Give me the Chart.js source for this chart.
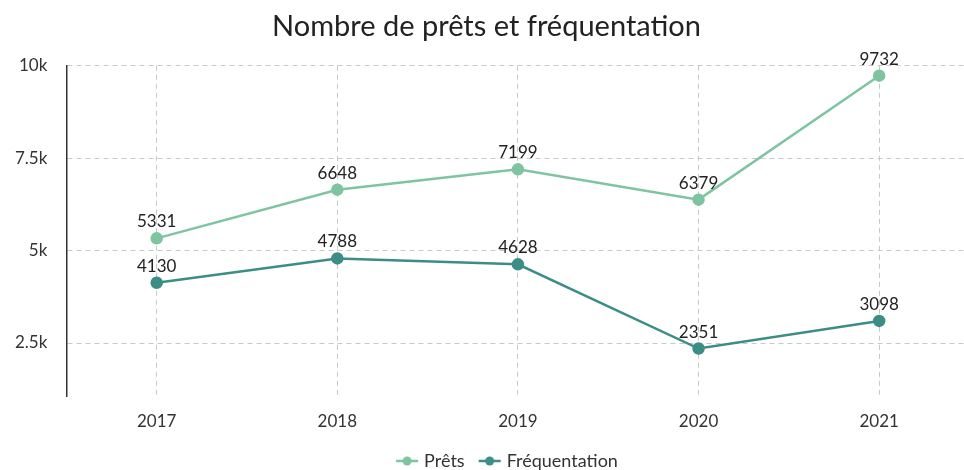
<!DOCTYPE html>
<html>
<head>
<meta charset="utf-8">
<script src="https://cdn.jsdelivr.net/npm/chart.js@4/dist/chart.umd.min.js"></script>
<style>
  html, body { margin: 0; padding: 0; background: #fff; overflow: hidden; }
  #wrap { width: 977px; height: 470px; position: relative; }
</style>
</head>
<body>
<div id="wrap"><canvas id="c"></canvas></div>
<script>
const categories = ['2017', '2018', '2019', '2020', '2021'];
const prets = [5331, 6648, 7199, 6379, 9732];
const frequentation = [4130, 4788, 4628, 2351, 3098];
const yTicks = [2500, 5000, 7500, 10000];
const yTickLabels = ['2.5k', '5k', '7.5k', '10k'];

const C_PRETS = '#7ec4a1';
const C_FREQ = '#3b8d86';
const FONT = 'Lato, "Open Sans", sans-serif';

// legend marker: line with a dot, preceded by transparent spacing
function legendIcon(color) {
  const cv = document.createElement('canvas');
  cv.width = 36; cv.height = 12;
  const g = cv.getContext('2d');
  g.strokeStyle = color; g.lineWidth = 2.5;
  g.beginPath(); g.moveTo(13, 6); g.lineTo(35, 6); g.stroke();
  g.fillStyle = color;
  g.beginPath(); g.arc(24, 6, 4.5, 0, Math.PI * 2); g.fill();
  return cv;
}

const valueLabels = {
  id: 'valueLabels',
  afterDatasetsDraw(chart) {
    const ctx = chart.ctx;
    ctx.save();
    ctx.font = '17px ' + FONT;
    ctx.fillStyle = '#222';
    ctx.textAlign = 'center';
    ctx.textBaseline = 'alphabetic';
    chart.data.datasets.forEach((ds, i) => {
      const meta = chart.getDatasetMeta(i);
      meta.data.forEach((el, j) => {
        ctx.fillText(String(ds.data[j]), el.x, el.y - 11);
      });
    });
    ctx.restore();
  }
};

const legendShift = {
  id: 'legendShift',
  afterLayout(chart) {
    if (chart.legend) { chart.legend.left += 16; chart.legend.right += 16; }
  }
};

new Chart(document.getElementById('c'), {
  type: 'line',
  data: {
    labels: categories,
    datasets: [
      { label: 'Prêts', data: prets, borderColor: C_PRETS, backgroundColor: C_PRETS,
        borderWidth: 2.5, pointRadius: 5, pointHoverRadius: 5, tension: 0, clip: false },
      { label: 'Fréquentation', data: frequentation, borderColor: C_FREQ, backgroundColor: C_FREQ,
        borderWidth: 2.5, pointRadius: 5, pointHoverRadius: 5, tension: 0, clip: false }
    ]
  },
  options: {
    responsive: true,
    maintainAspectRatio: false,
    animation: false,
    layout: { padding: { left: -4, right: 0, top: 9, bottom: -10 } },
    plugins: {
      title: {
        display: true,
        text: 'Nombre de prêts et fréquentation',
        color: '#222',
        font: { family: FONT, size: 29, weight: 'normal' },
        padding: { top: 0, bottom: 22 }
      },
      legend: {
        position: 'bottom',
        labels: {
          usePointStyle: true,
          pointStyleWidth: 28,
          color: '#333',
          font: { family: FONT, size: 18 },
          padding: 5,
          generateLabels(chart) {
            const items = Chart.defaults.plugins.legend.labels.generateLabels(chart);
            items.forEach((it, i) => {
              it.pointStyle = legendIcon(chart.data.datasets[i].borderColor);
            });
            return items;
          }
        }
      },
      tooltip: { enabled: false }
    },
    scales: {
      x: {
        offset: true,
        border: { display: false, dash: [5, 4] },
        grid: { color: '#c8c8c8', drawTicks: false, offset: false },
        ticks: { color: '#333', font: { family: FONT, size: 17 }, padding: 15 },
        afterFit(scale) { scale.paddingLeft = 0; scale.paddingRight = 0; }
      },
      y: {
        min: 1050,
        max: 10000,
        border: { display: true, color: '#333', width: 1.5, dash: [5, 4] },
        grid: { color: '#c8c8c8', drawTicks: false },
        afterBuildTicks(scale) {
          scale.ticks = yTicks.map(v => ({ value: v }));
        },
        ticks: {
          color: '#333',
          font: { family: FONT, size: 17 },
          padding: 19,
          callback(value) {
            const k = yTicks.indexOf(value);
            return k >= 0 ? yTickLabels[k] : '';
          }
        }
      }
    }
  },
  plugins: [valueLabels, legendShift]
});
</script>
</body>
</html>
